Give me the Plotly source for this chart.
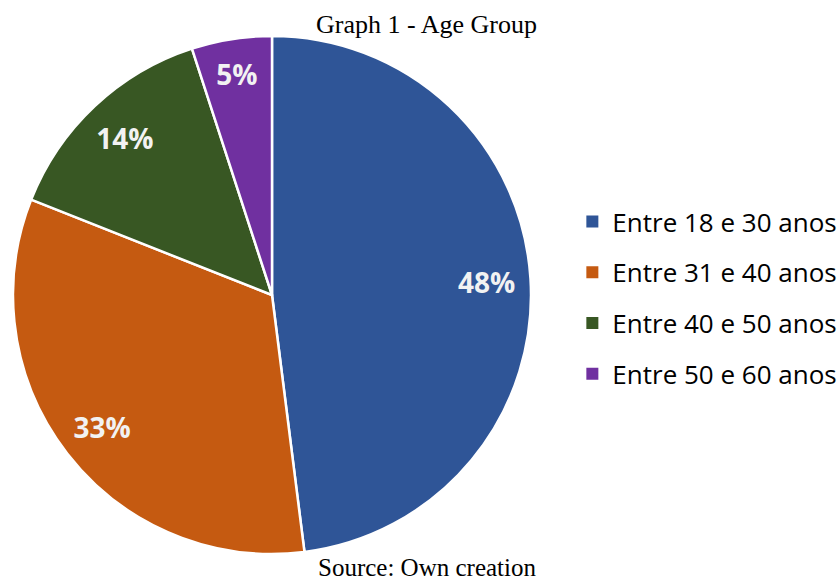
import plotly.graph_objects as go

categories = ["Entre 18 e 30 anos", "Entre 31 e 40 anos", "Entre 40 e 50 anos", "Entre 50 e 60 anos"]
values = [48, 33, 14, 5]
colors = ["#2F5597", "#C55A11", "#385723", "#7030A0"]
title_text = "Graph 1 - Age Group"
source_text = "Source: Own creation"

W, H = 838, 582
cx, cy, r = 272, 295, 259
dom = dict(x=[(cx - r) / W, (cx + r) / W], y=[(H - cy - r) / H, (H - cy + r) / H])

fig = go.Figure()
# main pie (colours, borders)
fig.add_trace(go.Pie(
    labels=categories, values=values, sort=False, direction="clockwise", rotation=0,
    marker=dict(colors=colors, line=dict(color="white", width=2.5)),
    textinfo="none", showlegend=False, hoverinfo="label+percent", domain=dom,
))
# transparent ring pie carrying the percentage labels near the rim
fig.add_trace(go.Pie(
    labels=categories, values=values, sort=False, direction="clockwise", rotation=0,
    hole=0.66, marker=dict(colors=["rgba(0,0,0,0)"] * len(values), line=dict(width=0)),
    texttemplate="%{percent:.0%}", textposition="inside", insidetextorientation="horizontal",
    textfont=dict(family="Open Sans", size=28, color="#F2F2F2", weight="bold"),
    showlegend=False, hoverinfo="skip", domain=dom,
))
for i, (c, col) in enumerate(zip(categories, colors)):
    fig.add_trace(go.Scatter(
        x=[None], y=[None], mode="markers", name=c, legendgroup=str(i),
        marker=dict(symbol="square", size=12, color=col),
    ))

fig.update_layout(
    width=W, height=H, margin=dict(l=0, r=0, t=0, b=0, autoexpand=False),
    paper_bgcolor="white", plot_bgcolor="white",
    xaxis=dict(visible=False), yaxis=dict(visible=False),
    legend=dict(x=0.683, y=0.488, xanchor="left", yanchor="middle", tracegroupgap=14,
                font=dict(family="Open Sans", size=26, color="#000000"), itemwidth=30),
    annotations=[
        dict(text=title_text, x=0.509, y=1 - 25 / H, xref="paper", yref="paper",
             xanchor="center", yanchor="middle",
             showarrow=False, font=dict(family="Liberation Serif", size=26, color="black")),
        dict(text=source_text, x=0.509, y=0, xref="paper", yref="paper",
             xanchor="center", yanchor="bottom", borderpad=0,
             showarrow=False, font=dict(family="Liberation Serif", size=25, color="black")),
    ],
)
fig.write_html("out.html", config={"displayModeBar": False},
               post_script="document.body.style.margin='0';")
